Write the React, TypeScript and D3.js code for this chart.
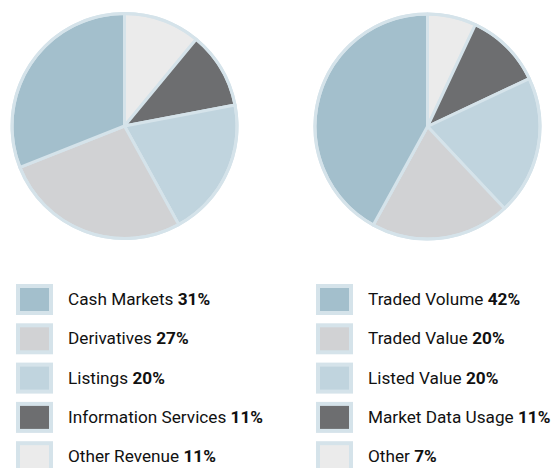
import React from "react";
import * as d3 from "d3";

const leftLabels = ["Cash Markets", "Derivatives", "Listings", "Information Services", "Other Revenue"];
const leftValues = [31, 27, 20, 11, 11];
const rightLabels = ["Traded Volume", "Traded Value", "Listed Value", "Market Data Usage", "Other"];
const rightValues = [42, 20, 20, 11, 7];
const colors = ["#a3bfcc", "#d1d2d4", "#c0d4de", "#6d6e70", "#ebebeb"];
const strokeColor = "#d5e3ea";

function Pie({ cx, cy, r, values }: { cx: number; cy: number; r: number; values: number[] }) {
  // clockwise from top: reversed legend order
  const idx = values.map((_, i) => i).reverse();
  const pie = d3.pie<number>().sort(null).value((i) => values[i]);
  const arcs = pie(idx);
  const arc = d3.arc<d3.PieArcDatum<number>>().innerRadius(0).outerRadius(r);
  return (
    <g transform={`translate(${cx},${cy})`}>
      {arcs.map((a, k) => (
        <path key={k} d={arc(a) || ""} fill={colors[a.data]} stroke={strokeColor} strokeWidth={3} strokeLinejoin="round" />
      ))}
      <circle r={r} fill="none" stroke={strokeColor} strokeWidth={3} />
    </g>
  );
}

function Legend({ x, y, labels, values }: { x: number; y: number; labels: string[]; values: number[] }) {
  const ys = d3.scaleLinear().domain([0, 1]).range([0, 39.3]);
  return (
    <g transform={`translate(${x},${y})`}>
      {labels.map((l, i) => (
        <g key={i} transform={`translate(0,${ys(i)})`}>
          <rect x={2} y={2} width={33} height={27} fill={colors[i]} stroke={strokeColor} strokeWidth={4} />
          <text x={52} y={21} fontFamily="Roboto, sans-serif" fontSize={17.2} fill="#111">
            {l} <tspan fontWeight="bold">{values[i]}%</tspan>
          </text>
        </g>
      ))}
    </g>
  );
}

export default function App() {
  return (
    <svg width={557} height={468} style={{ position: "absolute", left: 0, top: 0 }}>
      <rect width={557} height={468} fill="#fff" />
      <Pie cx={124.5} cy={126} r={112.5} values={leftValues} />
      <Pie cx={427.5} cy={126.5} r={112.5} values={rightValues} />
      <Legend x={16} y={284} labels={leftLabels} values={leftValues} />
      <Legend x={316} y={284} labels={rightLabels} values={rightValues} />
    </svg>
  );
}
